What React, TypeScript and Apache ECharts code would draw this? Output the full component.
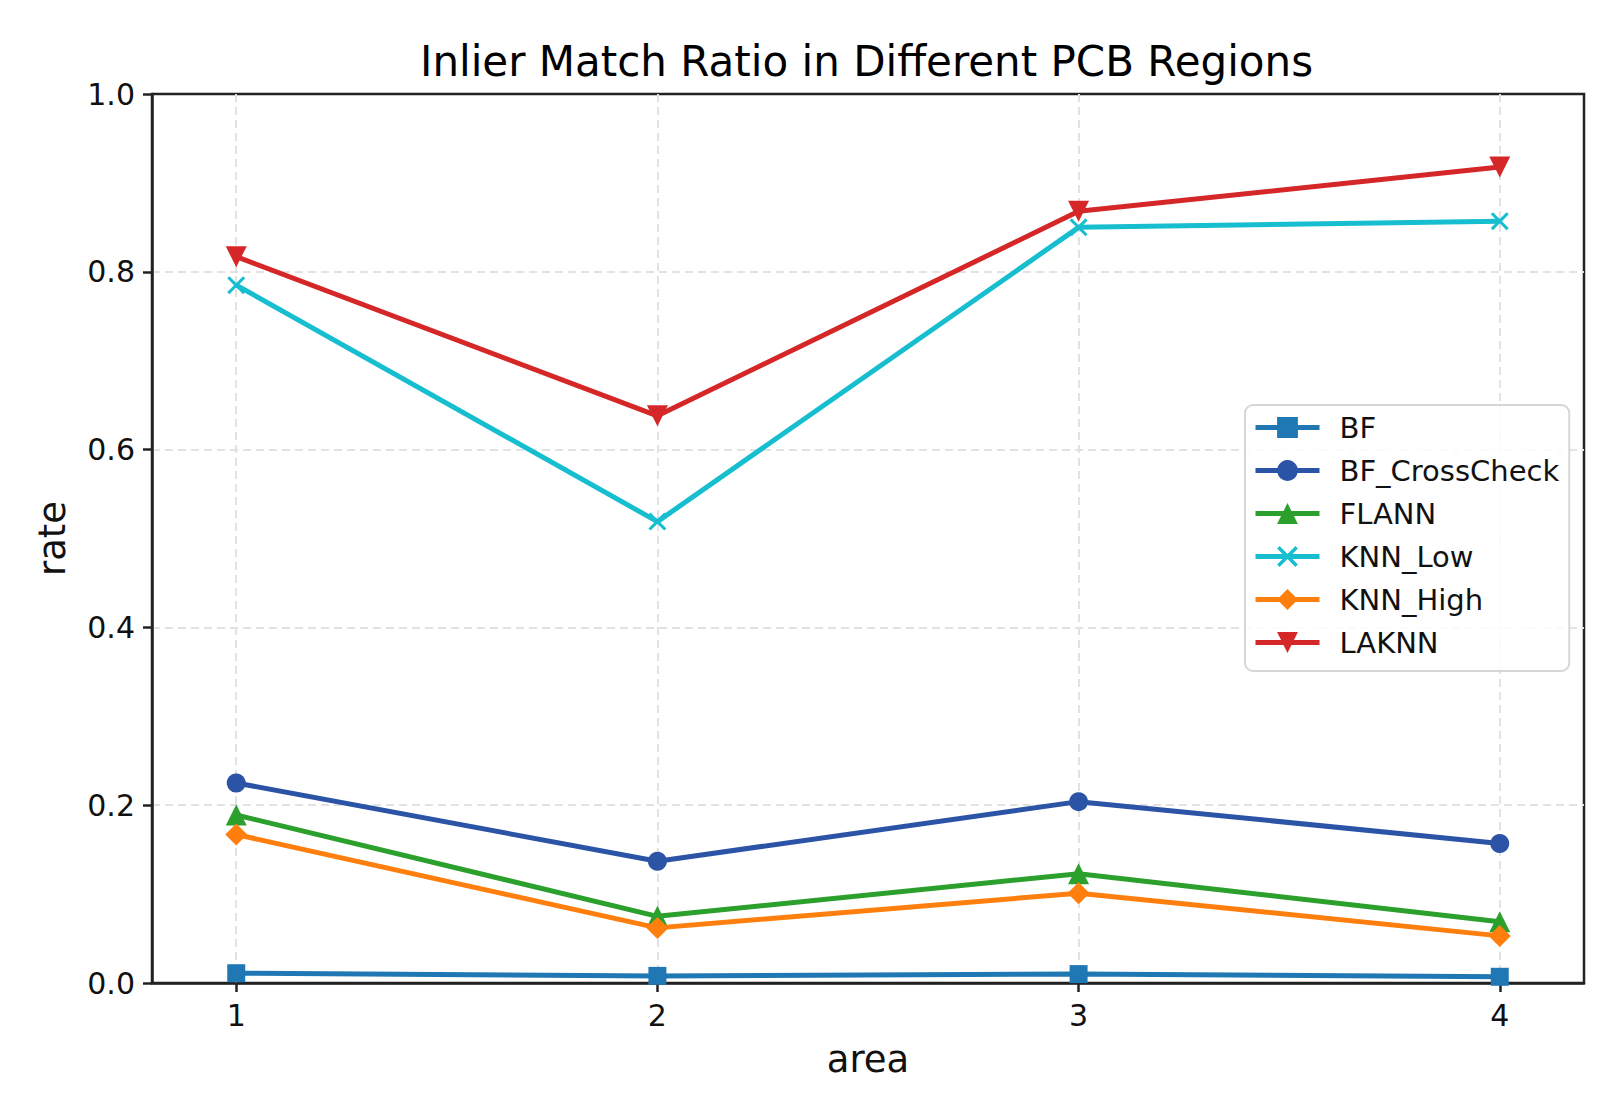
import React, { useEffect, useRef } from "react";
import * as echarts from "echarts";

const areas = [1, 2, 3, 4];
const seriesNames = ["BF", "BF_CrossCheck", "FLANN", "KNN_Low", "KNN_High", "LAKNN"];
const bf = [0.011, 0.008, 0.01, 0.007];
const bfCrossCheck = [0.225, 0.137, 0.204, 0.157];
const flann = [0.189, 0.075, 0.123, 0.069];
const knnLow = [0.785, 0.519, 0.85, 0.857];
const knnHigh = [0.167, 0.062, 0.101, 0.053];
const laknn = [0.817, 0.638, 0.868, 0.918];
const yTicks = [0, 0.2, 0.4, 0.6, 0.8, 1.0];

const colors = ["#1f77b4", "#2c54a6", "#2ca02c", "#17becf", "#ff7f0e", "#d62728"];
const symbols = [
  "rect",
  "circle",
  "triangle",
  "path://M0,1.2 L1.2,0 L5,3.8 L8.8,0 L10,1.2 L6.2,5 L10,8.8 L8.8,10 L5,6.2 L1.2,10 L0,8.8 L3.8,5 Z",
  "path://M5,0 L10,5 L5,10 L0,5 Z",
  "path://M0,0 L10,0 L5,10 Z",
];
const symbolSizes = [18, 19, 21, 18, 22, 21];

const FONT = "DejaVu Sans";

export default function App() {
  const ref = useRef<HTMLDivElement>(null);
  useEffect(() => {
    if (!ref.current) return;
    const chart = echarts.init(ref.current, undefined, { renderer: "svg" });
    const allData = [bf, bfCrossCheck, flann, knnLow, knnHigh, laknn];
    const series = allData.map((vals, i) => ({
      name: seriesNames[i],
      type: "line",
      data: areas.map((a, j) => [a, vals[j]]),
      symbol: symbols[i],
      symbolSize: symbolSizes[i],
      showAllSymbol: true,
      lineStyle: { color: colors[i], width: 5 },
      itemStyle: { color: colors[i], borderWidth: 0 },
      z: 2 + i,
      emphasis: { disabled: true },
    }));
    chart.setOption({
      animation: false,
      backgroundColor: "#ffffff",
      textStyle: { fontFamily: FONT },
      title: {
        text: "Inlier Match Ratio in Different PCB Regions",
        left: 420,
        top: 40,
        padding: 0,
        textStyle: { fontFamily: FONT, fontSize: 42, fontWeight: "normal", color: "#000" },
      },
      grid: {
        left: 152,
        top: 94,
        width: 1432,
        height: 889,
        show: true,
        borderColor: "#222",
        borderWidth: 2.5,
        containLabel: false,
      },
      legend: {
        orient: "vertical",
        left: 1245,
        top: 405,
        padding: [8, 10, 14, 8],
        itemWidth: 64,
        itemHeight: 26,
        itemGap: 14,
        backgroundColor: "rgba(255,255,255,0.85)",
        borderColor: "#d6d6d6",
        borderWidth: 2,
        borderRadius: 8,
        data: seriesNames,
        lineStyle: { width: 5 },
        textStyle: { fontFamily: FONT, fontSize: 29, color: "#111", padding: [0, 0, 0, 15] },
      },
      xAxis: {
        type: "value",
        min: 0.8,
        max: 4.2,
        name: "area",
        nameLocation: "middle",
        nameGap: 58,
        nameTextStyle: { fontFamily: FONT, fontSize: 37, color: "#111" },
        axisLine: { show: true, onZero: false, lineStyle: { color: "#222", width: 2.5 } },
        axisTick: { show: true, length: 9, customValues: areas, lineStyle: { color: "#222", width: 2.5 } },
        axisLabel: {
          customValues: areas,
          margin: 17,
          fontFamily: FONT,
          fontSize: 30,
          color: "#111",
        },
        splitLine: {
          show: true,
          lineStyle: { color: "#e2e2e2", width: 2, type: [8, 5] },
        },
      },
      yAxis: {
        type: "value",
        min: 0,
        max: 1,
        interval: 0.2,
        name: "rate",
        nameLocation: "middle",
        nameRotate: 90,
        nameGap: 81,
        nameTextStyle: { fontFamily: FONT, fontSize: 37, color: "#111" },
        axisLine: { show: true, lineStyle: { color: "#222", width: 2.5 } },
        axisTick: { show: true, length: 9, lineStyle: { color: "#222", width: 2.5 } },
        axisLabel: {
          margin: 17,
          fontFamily: FONT,
          fontSize: 30,
          color: "#111",
          formatter: (v: number) => {
            const t = yTicks.find((k) => Math.abs(k - v) < 1e-9);
            return (t !== undefined ? t : v).toFixed(1);
          },
        },
        splitLine: {
          show: true,
          showMinLine: false,
          showMaxLine: false,
          lineStyle: { color: "#e2e2e2", width: 2, type: [8, 5] },
        },
      },
      series,
    });
    return () => chart.dispose();
  }, []);
  return (
    <div
      ref={ref}
      style={{ position: "absolute", left: 0, top: 0, width: 1617, height: 1118 }}
    />
  );
}
